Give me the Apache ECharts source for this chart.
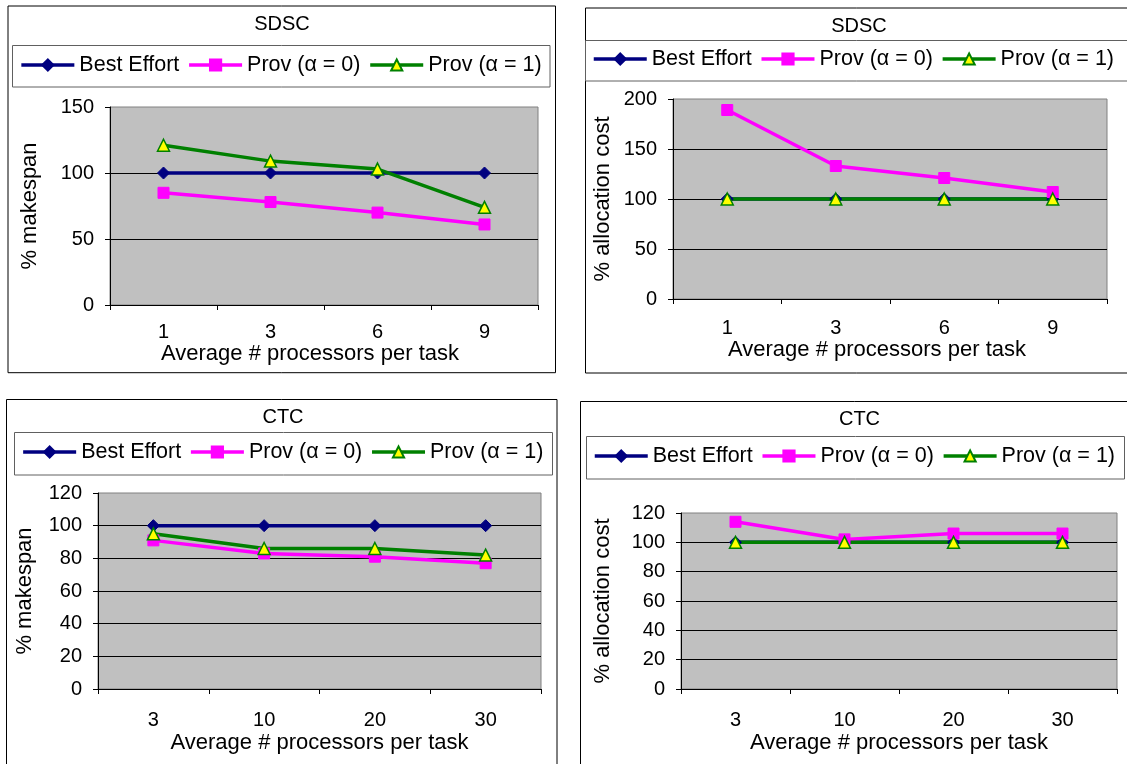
<!DOCTYPE html>
<html>
<head>
<meta charset="utf-8">
<script src="https://cdn.jsdelivr.net/npm/echarts@6/dist/echarts.min.js"></script>
<style>
html,body{margin:0;padding:0;background:#fff;}
#c{width:1127px;height:764px;}
</style>
</head>
<body>
<div id="c"></div>
<script>
// ---- data ----
const seriesNames = ['Best Effort', 'Prov (α = 0)', 'Prov (α = 1)'];
const catsSDSC = ['1', '3', '6', '9'];
const catsCTC = ['3', '10', '20', '30'];
const titles = ['SDSC', 'SDSC', 'CTC', 'CTC'];
const yNames = ['% makespan', '% allocation cost', '% makespan', '% allocation cost'];
const xName = 'Average # processors per task';

const sdscMakespanBE = [100, 100, 100, 100];
const sdscMakespanP0 = [85, 78, 70, 61];
const sdscMakespanP1 = [121, 109, 103, 74];

const sdscCostBE = [100, 100, 100, 100];
const sdscCostP0 = [189, 133, 121, 107];
const sdscCostP1 = [100, 100, 100, 100];

const ctcMakespanBE = [100, 100, 100, 100];
const ctcMakespanP0 = [91, 83, 81, 77];
const ctcMakespanP1 = [95, 86, 86, 82];

const ctcCostBE = [100, 100, 100, 100];
const ctcCostP0 = [114, 102, 106, 106];
const ctcCostP1 = [100, 100, 100, 100];

const yMax = [150, 200, 120, 120];
const yStep = [50, 50, 20, 20];

// ---- layout ----
const FONT = '"Liberation Sans", Arial, sans-serif';
const grids = [
  {left: 110, top: 107, width: 428, height: 198},
  {left: 673, top: 99, width: 434, height: 200},
  {left: 98, top: 493, width: 443, height: 196},
  {left: 681, top: 513, width: 436, height: 176}
];
const titlePos = [[282, 14], [859, 16], [283, 407], [859.5, 409]];
const legendPos = [[19.6, 54], [592, 48], [21.4, 441], [593, 445]];
const yNameGap = [69, 59, 62, 67];
const xLabelMargin = [17, 19, 21, 21];
const xNameGap = [34, 40, 43, 43];
const xNamePad = [[0, 28, 0, 0], [0, 26, 0, 0], [0, 0, 0, 0], [0, 0, 0, 0]];

const dataSets = [
  [sdscMakespanBE, sdscMakespanP0, sdscMakespanP1],
  [sdscCostBE, sdscCostP0, sdscCostP1],
  [ctcMakespanBE, ctcMakespanP0, ctcMakespanP1],
  [ctcCostBE, ctcCostP0, ctcCostP1]
];
const cats = [catsSDSC, catsSDSC, catsCTC, catsCTC];

const seriesStyles = [
  {symbol: 'diamond', symbolSize: 12, color: '#000080', border: '#000080', line: '#000080'},
  {symbol: 'rect', symbolSize: 11, color: '#FF00FF', border: '#FF00FF', line: '#FF00FF'},
  {symbol: 'triangle', symbolSize: 12, color: '#FFFF00', border: '#008000', line: '#008000'}
];

const option = {
  animation: false,
  textStyle: {fontFamily: FONT, color: '#000'},
  title: titles.map((t, i) => ({
    text: t, left: titlePos[i][0], top: titlePos[i][1], textAlign: 'center', padding: 0,
    textStyle: {fontFamily: FONT, fontSize: 20, fontWeight: 'normal', color: '#000'}
  })),
  legend: legendPos.map(p => ({
    data: seriesNames, left: p[0], top: p[1], padding: 0, orient: 'horizontal',
    itemWidth: 53, itemHeight: 14, itemGap: 8,
    lineStyle: {width: 3.5},
    textStyle: {fontFamily: FONT, fontSize: 21.5, color: '#000'}
  })),
  grid: grids.map(g => Object.assign({show: true, backgroundColor: '#C0C0C0', borderColor: '#808080', borderWidth: 1}, g)),
  xAxis: cats.map((c, i) => ({
    type: 'category', gridIndex: i, data: c, boundaryGap: true,
    name: xName, nameLocation: 'middle', nameGap: xNameGap[i],
    nameTextStyle: {fontFamily: FONT, fontSize: 22, color: '#000', padding: xNamePad[i]},
    axisLine: {show: true, lineStyle: {color: '#000', width: 1}},
    axisTick: {show: true, length: 5, alignWithLabel: false, interval: 0, lineStyle: {color: '#000'}},
    axisLabel: {fontFamily: FONT, fontSize: 20, color: '#000', margin: xLabelMargin[i], interval: 0},
    splitLine: {show: false}
  })),
  yAxis: yMax.map((m, i) => ({
    type: 'value', gridIndex: i, min: 0, max: m, interval: yStep[i],
    name: yNames[i], nameLocation: 'middle', nameGap: yNameGap[i],
    nameTextStyle: {fontFamily: FONT, fontSize: 22, color: '#000'},
    axisLine: {show: true, lineStyle: {color: '#000', width: 1}},
    axisTick: {show: true, length: 5, lineStyle: {color: '#000'}},
    axisLabel: {fontFamily: FONT, fontSize: 20, color: '#000', margin: 16},
    splitLine: {show: true, showMaxLine: false, lineStyle: {color: '#000', width: 1}}
  })),
  series: [],
  graphic: [
    {type: 'rect', shape: {x: 8, y: 6, width: 547.5, height: 366.7}, style: {fill: 'none', stroke: '#000', lineWidth: 1}, z: 100},
    {type: 'rect', shape: {x: 585.5, y: 8, width: 560, height: 365}, style: {fill: 'none', stroke: '#000', lineWidth: 1}, z: 100},
    {type: 'rect', shape: {x: 6.5, y: 399.5, width: 550.5, height: 400}, style: {fill: 'none', stroke: '#000', lineWidth: 1}, z: 100},
    {type: 'rect', shape: {x: 580.5, y: 401.5, width: 560, height: 400}, style: {fill: 'none', stroke: '#000', lineWidth: 1}, z: 100},
    {type: 'rect', shape: {x: 12.5, y: 45.5, width: 537.5, height: 41.5}, style: {fill: 'none', stroke: '#606060', lineWidth: 1}, z: 100},
    {type: 'rect', shape: {x: 585.5, y: 40.5, width: 560, height: 40.5}, style: {fill: 'none', stroke: '#606060', lineWidth: 1}, z: 100},
    {type: 'rect', shape: {x: 14.5, y: 432.5, width: 538, height: 42.5}, style: {fill: 'none', stroke: '#606060', lineWidth: 1}, z: 100},
    {type: 'rect', shape: {x: 586.5, y: 436.5, width: 538, height: 42.5}, style: {fill: 'none', stroke: '#606060', lineWidth: 1}, z: 100}
  ]
};

dataSets.forEach((set, gi) => {
  set.forEach((vals, si) => {
    const st = seriesStyles[si];
    option.series.push({
      type: 'line', name: seriesNames[si], xAxisIndex: gi, yAxisIndex: gi,
      data: vals, symbol: st.symbol, symbolSize: st.symbolSize, showAllSymbol: true,
      lineStyle: {color: st.line, width: 3.5},
      itemStyle: {color: st.color, borderColor: st.border, borderWidth: si === 2 ? 1.5 : 1},
      emphasis: {disabled: true}
    });
  });
});

const chart = echarts.init(document.getElementById('c'), null, {renderer: 'canvas'});
chart.setOption(option);
</script>
</body>
</html>
